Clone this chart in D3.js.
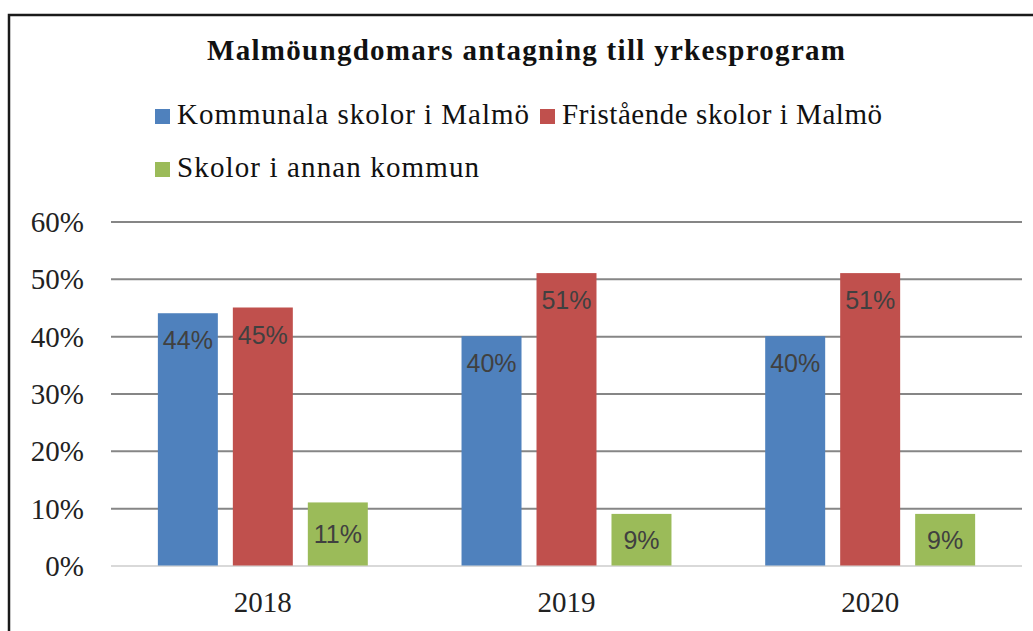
<!DOCTYPE html>
<html>
<head>
<meta charset="utf-8">
<script src="https://cdn.jsdelivr.net/npm/d3@7"></script>
<style>
  html, body { margin: 0; padding: 0; background: #fff; }
</style>
</head>
<body>
<div id="chart"></div>
<script>

// data
var years = ["2018", "2019", "2020"];
var seriesNames = ["Kommunala skolor i Malmö", "Fristående skolor i Malmö", "Skolor i annan kommun"];
var kommunala = [0.44, 0.40, 0.40];
var fristaende = [0.45, 0.51, 0.51];
var annanKommun = [0.11, 0.09, 0.09];
var yTicks = [0, 0.1, 0.2, 0.3, 0.4, 0.5, 0.6];
var colors = ["#4f81bd", "#c0504d", "#9bbb59"];

var width = 1033,
    height = 631;

var svg = d3.select("#chart")
  .append("svg")
  .attr("width", width)
  .attr("height", height);

var serif = "'Liberation Serif', 'DejaVu Serif', serif",
    sans = "'Liberation Sans', Arial, sans-serif";

// frame around the chart (runs off the right and bottom edge)
svg.append("rect")
  .attr("x", 9)
  .attr("y", 15)
  .attr("width", 1100)
  .attr("height", 700)
  .style("fill", "none")
  .style("stroke", "#1a1a1a")
  .style("stroke-width", 2.5);

// title
svg.append("text")
  .attr("x", 526)
  .attr("y", 60)
  .attr("text-anchor", "middle")
  .attr("textLength", 638)
  .attr("lengthAdjust", "spacing")
  .style("font-family", serif)
  .style("font-weight", "bold")
  .style("font-size", "29px")
  .style("fill", "#111")
  .text("Malmöungdomars antagning till yrkesprogram");

// legend
var legendItems = [
  {name: seriesNames[0], color: colors[0], x: 155, y: 124, w: 352},
  {name: seriesNames[1], color: colors[1], x: 540, y: 124, w: 320},
  {name: seriesNames[2], color: colors[2], x: 155, y: 177, w: 302}
];
var leg = svg.selectAll(".legend")
  .data(legendItems)
  .enter()
  .append("g")
  .attr("class", "legend")
  .attr("transform", function(d) { return "translate(" + d.x + "," + d.y + ")"; });

leg.append("rect")
  .attr("x", 0)
  .attr("y", -15)
  .attr("width", 15)
  .attr("height", 15)
  .style("fill", function(d) { return d.color; });

leg.append("text")
  .attr("x", 22)
  .attr("y", 0)
  .attr("textLength", function(d) { return d.w; })
  .attr("lengthAdjust", "spacing")
  .style("font-family", serif)
  .style("font-size", "29px")
  .style("fill", "#111")
  .text(function(d) { return d.name; });

// scales
var x0 = d3.scaleBand()
  .domain(years)
  .range([111, 1022]);

var x1 = d3.scaleBand()
  .domain(d3.range(seriesNames.length))
  .range([0, x0.bandwidth()])
  .paddingInner(0.2)
  .paddingOuter(0.625);

var y = d3.scaleLinear()
  .domain([0, 0.6])
  .range([565.5, 221.5]);

// gridlines + y labels
var yAxis = d3.axisLeft(y)
  .tickValues(yTicks)
  .tickSize(-(1022 - 111))
  .tickPadding(27)
  .tickFormat(d3.format(".0%"));

var gy = svg.append("g")
  .attr("transform", "translate(111,0)")
  .call(yAxis);
gy.select(".domain").remove();
gy.selectAll(".tick line")
  .style("stroke", function(d) { return d === 0 ? "#d9d9d9" : "#868686"; })
  .style("stroke-width", 2);
gy.selectAll(".tick text")
  .attr("dy", "0.34em")
  .style("font-family", serif)
  .style("font-size", "29px")
  .style("fill", "#222");

// x labels
var xAxis = d3.axisBottom(x0).tickSize(0).tickPadding(0);
var gx = svg.append("g")
  .attr("transform", "translate(0,565.5)")
  .call(xAxis);
gx.select(".domain").remove();
gx.selectAll(".tick text")
  .attr("y", 46)
  .attr("dy", 0)
  .style("font-family", serif)
  .style("font-size", "29px")
  .style("fill", "#222");

// bars
var values = [kommunala, fristaende, annanKommun];
var bars = [];
for (var s = 0; s < values.length; s++){
  for (var i = 0; i < years.length; i++){
    bars.push({series: s, year: years[i], value: values[s][i]});
  }
}

var barG = svg.append("g");
barG.selectAll("rect")
  .data(bars)
  .enter()
  .append("rect")
  .attr("x", function(d) { return x0(d.year) + x1(d.series); })
  .attr("y", function(d) { return y(d.value); })
  .attr("width", x1.bandwidth())
  .attr("height", function(d) { return y(0) - y(d.value); })
  .style("fill", function(d) { return colors[d.series]; });

// data labels: inside end for the two Malmö series, centered for the third
barG.selectAll("text")
  .data(bars)
  .enter()
  .append("text")
  .attr("x", function(d) { return x0(d.year) + x1(d.series) + x1.bandwidth() / 2; })
  .attr("y", function(d) {
    if (d.series === 2) return (y(d.value) + y(0)) / 2 + 9;
    return y(d.value) + 36;
  })
  .attr("text-anchor", "middle")
  .style("font-family", sans)
  .style("font-size", "25px")
  .style("fill", "#404040")
  .text(function(d) { return d3.format(".0%")(d.value); });

</script>
</body>
</html>
